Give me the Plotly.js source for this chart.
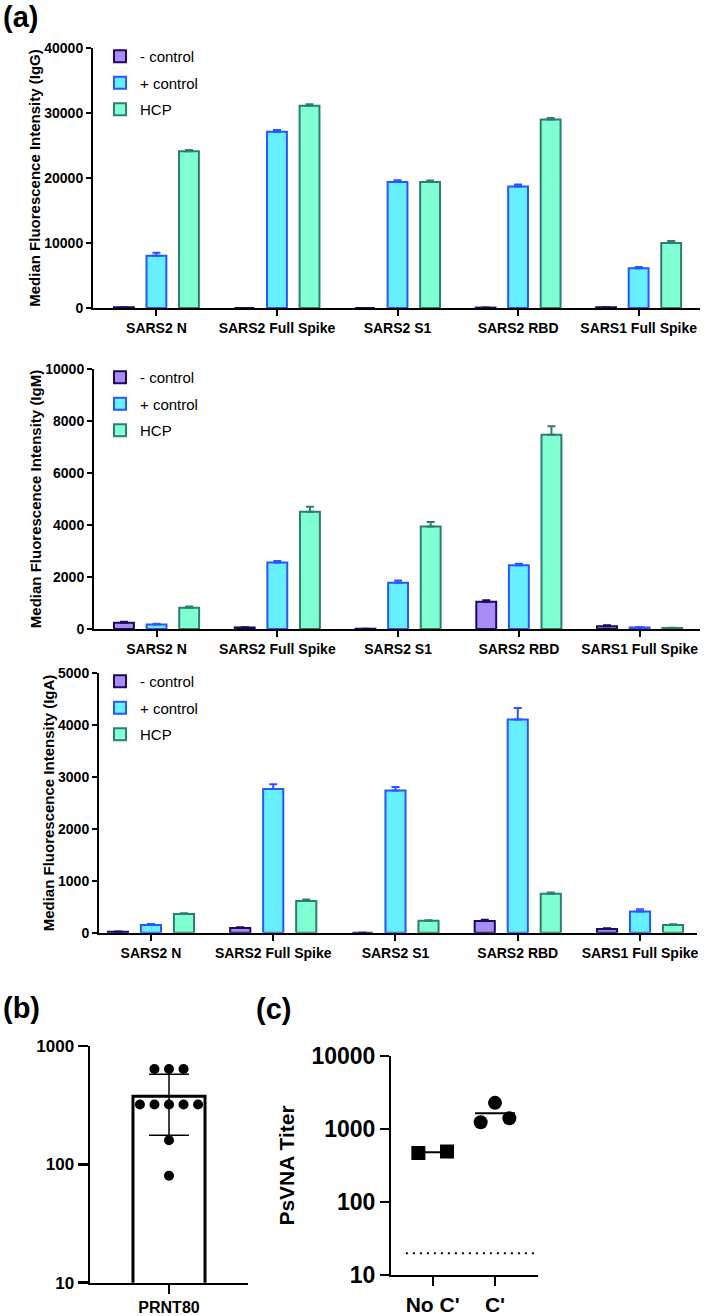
<!DOCTYPE html>
<html>
<head>
<meta charset="utf-8">
<script src="https://cdn.plot.ly/plotly-3.0.1.min.js"></script>
<style>html,body{margin:0;padding:0;background:#fff;}#chart{width:708px;height:1316px;}</style>
</head>
<body>
<div id="chart"></div>
<script>
// ---------- DATA ----------
const categories = ["SARS2 N", "SARS2 Full Spike", "SARS2 S1", "SARS2 RBD", "SARS1 Full Spike"];
const seriesNames = ["- control", "+ control", "HCP"];

const iggNeg = [120, 0, 0, 60, 120];
const iggNegErr = [0, 0, 0, 0, 0];
const iggPos = [8050, 27100, 19400, 18700, 6100];
const iggPosErr = [450, 300, 250, 300, 200];
const iggHcp = [24100, 31100, 19400, 29000, 10000];
const iggHcpErr = [200, 250, 200, 250, 300];

const igmNeg = [240, 60, 10, 1050, 110];
const igmNegErr = [40, 10, 0, 60, 30];
const igmPos = [170, 2560, 1780, 2450, 60];
const igmPosErr = [30, 60, 90, 60, 20];
const igmHcp = [820, 4510, 3940, 7470, 40];
const igmHcpErr = [50, 190, 180, 330, 10];

const igaNeg = [20, 90, 0, 225, 70];
const igaNegErr = [5, 15, 0, 25, 15];
const igaPos = [150, 2770, 2740, 4110, 410];
const igaPosErr = [20, 90, 70, 220, 40];
const igaHcp = [360, 610, 230, 750, 150];
const igaHcpErr = [15, 30, 10, 25, 15];

const prntLabels = ["PRNT80"];
const prntTiters = [640, 640, 640, 320, 320, 320, 320, 320, 160, 80];
const prntMean = 376;
const prntSD = 200;

const psvnaLabels = ["No C'", "C'"];
const psvnaNoC = [470, 490];
const psvnaC = [1230, 2270, 1400];
const psvnaLOD = 20;

// ---------- STYLE ----------
const FONT = "Liberation Sans, Arial, Helvetica, sans-serif";
const seriesStyle = [
  {fill: "#a98cf5", line: "#1c0a5e"},
  {fill: "#66f0ff", line: "#2a55ff"},
  {fill: "#80ffd2", line: "#2e7d72"}
];
const W = 708, H = 1316;
const px = v => v / W;
const py = v => 1 - v / H;

const panels = [
  {title: "Median Fluorescence Intensity (IgG)", ymax: 40000, dtick: 10000,
   data: [[iggNeg, iggNegErr], [iggPos, iggPosErr], [iggHcp, iggHcpErr]],
   xdom: [px(93), px(700)], ydom: [py(308), py(48)], xr: [-0.526, 4.509], legendTop: 40},
  {title: "Median Fluorescence Intensity (IgM)", ymax: 10000, dtick: 2000,
   data: [[igmNeg, igmNegErr], [igmPos, igmPosErr], [igmHcp, igmHcpErr]],
   xdom: [px(94), px(700)], ydom: [py(629), py(369)], xr: [-0.518, 4.5], legendTop: 361},
  {title: "Median Fluorescence Intensity (IgA)", ymax: 5000, dtick: 1000,
   data: [[igaNeg, igaNegErr], [igaPos, igaPosErr], [igaHcp, igaHcpErr]],
   xdom: [px(99), px(697)], ydom: [py(932.7), py(673.3)], xr: [-0.425, 4.466], legendTop: 665}
];

const traces = [];
const layout = {
  width: W, height: H,
  margin: {l: 0, r: 0, t: 0, b: 0},
  paper_bgcolor: "#fff", plot_bgcolor: "rgba(0,0,0,0)",
  barmode: "group", bargap: 0.19, bargroupgap: 0.39,
  showlegend: true,
  font: {family: FONT, color: "#000"},
  annotations: [],
  shapes: []
};

const axisCommon = {
  showline: true, linecolor: "#000", linewidth: 2,
  ticks: "outside", tickcolor: "#000", tickwidth: 2,
  showgrid: false, zeroline: false, automargin: false, fixedrange: true
};

panels.forEach((p, i) => {
  const n = i + 1;
  const xa = "x" + (n === 1 ? "" : n), ya = "y" + (n === 1 ? "" : n);
  const legendId = "legend" + (n === 1 ? "" : n);
  p.data.forEach((d, s) => {
    traces.push({
      type: "bar", name: seriesNames[s], x: categories, y: d[0],
      xaxis: xa, yaxis: ya, legend: legendId, legendgroup: "p" + n + "s" + s,
      marker: {color: seriesStyle[s].fill, line: {color: seriesStyle[s].line, width: 2}},
      error_y: {type: "data", symmetric: false, array: d[1], arrayminus: d[1].map(() => 0),
                color: seriesStyle[s].line, thickness: 2, width: 4},
      hoverinfo: "skip"
    });
  });
  layout["xaxis" + (n === 1 ? "" : n)] = Object.assign({}, axisCommon, {
    type: "category", domain: p.xdom, range: p.xr, anchor: ya, ticklen: 6,
    tickfont: {family: FONT, size: 14, weight: "bold", color: "#000"}
  });
  layout["yaxis" + (n === 1 ? "" : n)] = Object.assign({}, axisCommon, {
    domain: p.ydom, range: [0, p.ymax], dtick: p.dtick, tickformat: "d", anchor: xa, ticklen: 5,
    tickfont: {family: FONT, size: 14, weight: "bold", color: "#000"},
    title: {text: p.title, font: {family: FONT, size: 15, weight: "bold", color: "#000"}, standoff: 0}
  });
  layout[legendId] = {
    x: px(100), y: py(p.legendTop), xanchor: "left", yanchor: "top",
    bgcolor: "rgba(0,0,0,0)", borderwidth: 0, traceorder: "grouped", tracegroupgap: 4,
    font: {family: FONT, size: 15, color: "#000"}
  };
});

// ---------- Panel (b) ----------
const beeswarm = (vals, spacing) => {
  const out = [];
  const counts = {}, seen = {};
  vals.forEach(v => counts[v] = (counts[v] || 0) + 1);
  vals.forEach(v => {
    const k = seen[v] || 0; seen[v] = k + 1;
    out.push((k - (counts[v] - 1) / 2) * spacing);
  });
  return out;
};
traces.push({
  type: "bar", x: [0], y: [prntMean], width: 0.456, xaxis: "x4", yaxis: "y4", showlegend: false,
  marker: {color: "#fff", line: {color: "#000", width: 3}},
  error_y: {type: "data", array: [prntSD], color: "#000", thickness: 1.5, width: 20},
  hoverinfo: "skip"
});
traces.push({
  type: "scatter", mode: "markers", x: beeswarm(prntTiters, 0.092), y: prntTiters,
  xaxis: "x4", yaxis: "y4", showlegend: false,
  marker: {color: "#000", size: 10, symbol: "circle"}, hoverinfo: "skip"
});
layout.xaxis4 = Object.assign({}, axisCommon, {
  domain: [px(90), px(248)], range: [-0.5, 0.5], anchor: "y4", linewidth: 2.5,
  tickvals: [0], ticktext: prntLabels, ticklen: 9, tickwidth: 2.5,
  tickfont: {family: FONT, size: 16, weight: "bold", color: "#000"}
});
layout.yaxis4 = Object.assign({}, axisCommon, {
  type: "log", domain: [py(1282.7), py(1046)], range: [1, 3], anchor: "x4", linewidth: 2.5,
  tickvals: [10, 100, 1000], ticktext: ["10", "100", "1000"], ticklen: 10, tickwidth: 2.5,
  tickfont: {family: FONT, size: 17, weight: "bold", color: "#000"}
});

// ---------- Panel (c) ----------
const spreadC = 0.23, meanHalf = 0.32;
const spreadOffsets = n => Array.from({length: n}, (_, k) => n === 1 ? 0 : -spreadC + 2 * spreadC * k / (n - 1));
const mean = a => a.reduce((s, v) => s + v, 0) / a.length;
const groupsC = [psvnaNoC, psvnaC];
const symbolsC = ["square", "circle"];
groupsC.forEach((g, i) => {
  const m = mean(g);
  traces.push({
    type: "scatter", mode: "lines", x: [i - meanHalf, i + meanHalf], y: [m, m],
    xaxis: "x5", yaxis: "y5", showlegend: false, line: {color: "#000", width: 2}, hoverinfo: "skip"
  });
  traces.push({
    type: "scatter", mode: "markers", x: spreadOffsets(g.length).map(o => i + o), y: g,
    xaxis: "x5", yaxis: "y5", showlegend: false,
    marker: {color: "#000", size: 14, symbol: symbolsC[i]}, hoverinfo: "skip"
  });
});
traces.push({
  type: "scatter", mode: "lines", x: [-0.43, 1.69], y: [psvnaLOD, psvnaLOD],
  xaxis: "x5", yaxis: "y5", showlegend: false,
  line: {color: "#000", width: 2, dash: "2px,5px"}, hoverinfo: "skip"
});
layout.xaxis5 = Object.assign({}, axisCommon, {
  domain: [px(391), px(538)], range: [-0.669, 1.69], anchor: "y5",
  tickvals: [0, 1], ticktext: psvnaLabels, ticklen: 9,
  tickfont: {family: FONT, size: 21, weight: "bold", color: "#000"}
});
layout.yaxis5 = Object.assign({}, axisCommon, {
  type: "log", domain: [py(1275.3), py(1055.7)], range: [1, 4], anchor: "x5",
  tickvals: [10, 100, 1000, 10000], ticktext: ["10", "100", "1000", "10000"], ticklen: 9,
  tickfont: {family: FONT, size: 23, weight: "bold", color: "#000"},
  title: {text: "PsVNA Titer", font: {family: FONT, size: 21, weight: "bold", color: "#000"}, standoff: 11}
});

// ---------- Panel labels ----------
[["(a)", 1, 17], ["(b)", 1, 1008], ["(c)", 254, 1009]].forEach(([t, x, y]) => {
  layout.annotations.push({
    text: t, xref: "paper", yref: "paper", x: px(x), y: py(y), xanchor: "left", yanchor: "middle",
    showarrow: false, font: {family: FONT, size: 29, weight: "bold", color: "#000"}
  });
});

Plotly.newPlot("chart", traces, layout, {staticPlot: true, displayModeBar: false});
</script>
</body>
</html>
